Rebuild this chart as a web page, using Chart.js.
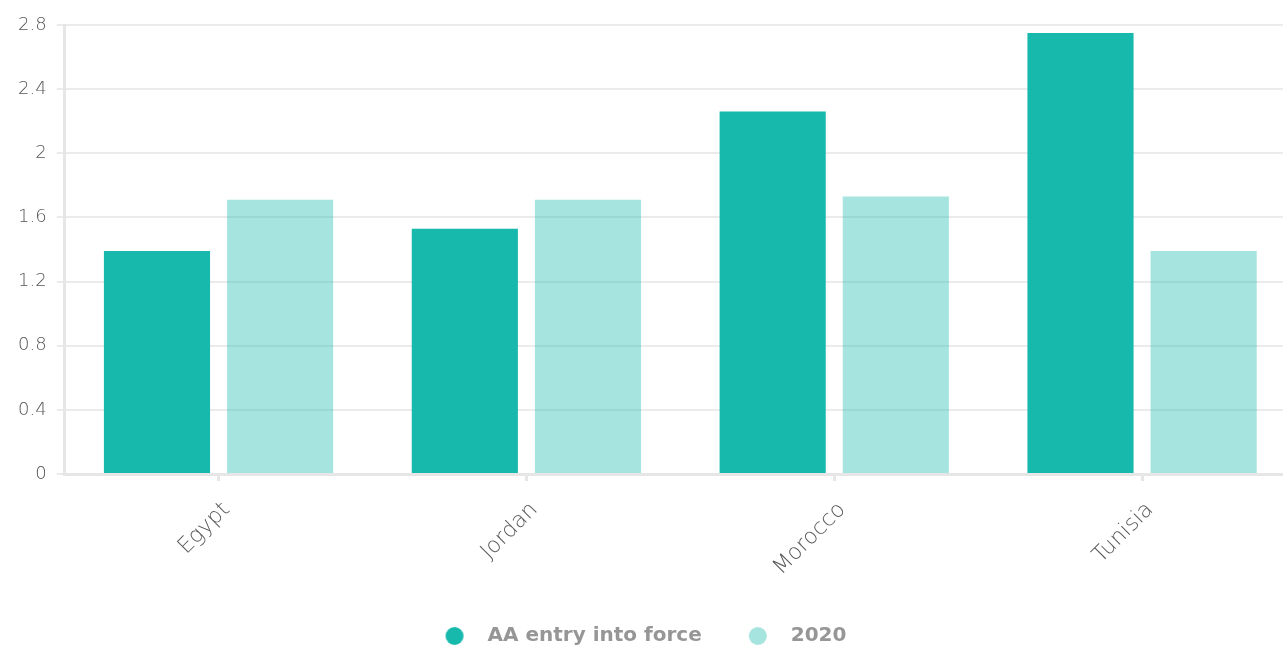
<!DOCTYPE html>
<html>
<head>
<meta charset="utf-8">
<script src="https://cdn.jsdelivr.net/npm/chart.js@4/dist/chart.umd.min.js"></script>
<style>
  html, body { margin: 0; padding: 0; background: #fff; overflow: hidden; }
  #wrap { width: 1296px; height: 648px; }
</style>
</head>
<body>
<div id="wrap"><canvas id="chart" width="1296" height="648"></canvas></div>
<script>
// Country categories and the two series plotted per country
const countries = ["Egypt", "Jordan", "Morocco", "Tunisia"];
const aaEntryIntoForce = [1.39, 1.53, 2.26, 2.75];
const year2020 = [1.71, 1.71, 1.73, 1.39];
const seriesNames = ["AA entry into force", "2020"];
const yTickLabels = ["0", "0.4", "0.8", "1.2", "1.6", "2", "2.4", "2.8"];

const FONT = "'DejaVu Sans', 'Open Sans', sans-serif";
const gridGrey = "#ebebeb";
const axisGrey = "#e6e6e6";
const darkTeal = "#17b9ad";
const lightTeal = "rgba(23,185,173,0.39)";

// Legend marker: a small dot drawn left of the image centre, leaving a wider gap before the text
function legendDot(color) {
  const c = document.createElement("canvas");
  c.width = 46; c.height = 20;
  const g = c.getContext("2d");
  g.fillStyle = color;
  g.beginPath();
  g.arc(10, 10, 9, 0, Math.PI * 2);
  g.fill();
  return c;
}

// The x axis box is kept short; let its slanted labels spill into the space above the legend
const xLabelRoom = {
  id: "xLabelRoom",
  afterLayout(chart) {
    chart.scales.x.bottom += 40;
  }
};

new Chart(document.getElementById("chart"), {
  type: "bar",
  data: {
    labels: countries,
    datasets: [
      {
        label: seriesNames[0],
        data: aaEntryIntoForce,
        backgroundColor: darkTeal,
        borderWidth: 0,
        pointStyle: legendDot(darkTeal),
        order: 1
      },
      {
        label: seriesNames[1],
        data: year2020,
        backgroundColor: lightTeal,
        borderWidth: 0,
        pointStyle: legendDot(lightTeal),
        order: 2
      }
    ]
  },
  plugins: [xLabelRoom],
  options: {
    responsive: false,
    animation: false,
    devicePixelRatio: 1,
    layout: { padding: { left: 8, right: 0, top: 25, bottom: -8 } },
    datasets: { bar: { categoryPercentage: 0.8, barPercentage: 0.862 } },
    scales: {
      x: {
        afterFit: (scale) => { scale.height = 93; },
        grid: {
          offset: false,
          drawOnChartArea: false,
          drawTicks: true,
          tickLength: 7,
          color: axisGrey,
          lineWidth: 3
        },
        border: { color: axisGrey, width: 3 },
        ticks: {
          color: "#5a5a5a",
          font: { family: FONT, size: 22, weight: 300 },
          maxRotation: 45,
          minRotation: 45,
          padding: 16,
          labelOffset: 8
        }
      },
      y: {
        min: 0,
        max: 2.8,
        ticks: {
          stepSize: 0.4,
          color: "#555",
          font: { family: FONT, size: 18, weight: 300 },
          padding: 10,
          callback: (v, i) => yTickLabels[i]
        },
        grid: {
          color: gridGrey,
          lineWidth: 2,
          tickLength: 8,
          drawOnChartArea: true
        },
        border: { color: axisGrey, width: 3 }
      }
    },
    plugins: {
      legend: {
        position: "bottom",
        labels: {
          usePointStyle: true,
          boxWidth: 20,
          boxHeight: 20,
          padding: 59,
          color: "#969696",
          font: { family: FONT, size: 20, weight: "bold" }
        }
      },
      tooltip: { enabled: false }
    }
  }
});
</script>
</body>
</html>
